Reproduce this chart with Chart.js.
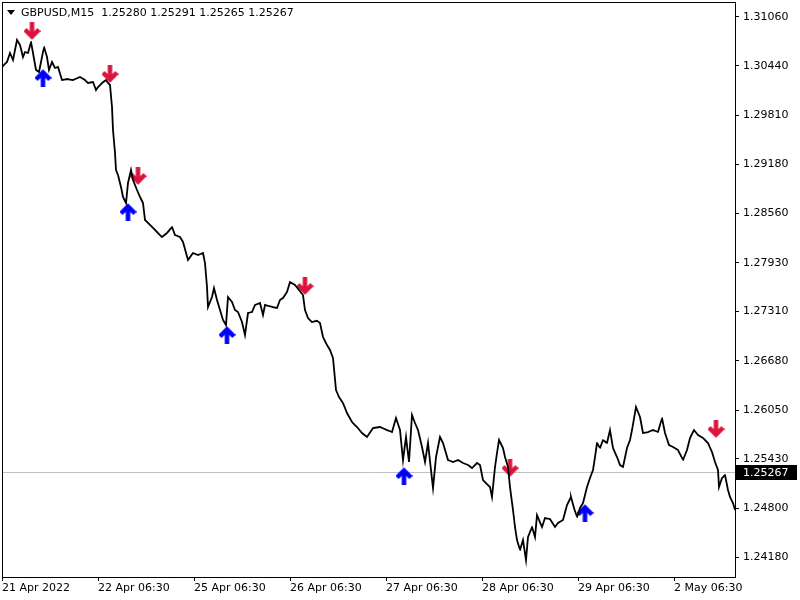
<!DOCTYPE html>
<html>
<head>
<meta charset="utf-8">
<title>GBPUSD,M15</title>
<script src="https://cdn.jsdelivr.net/npm/chart.js@4.4.1/dist/chart.umd.min.js"></script>
<style>
  html, body { margin: 0; padding: 0; background: #fff; }
  #wrap { width: 800px; height: 600px; }
</style>
</head>
<body>
<div id="wrap"><canvas id="chart" width="800" height="600"></canvas></div>
<script>
const symbolTitle = "GBPUSD,M15";
const lastBar = ["1.25280", "1.25291", "1.25265", "1.25267"];
const bidPrice = 1.25267;

// M15 bar number (0 = first bar on screen) and close
const barIndex = [
  0, 5, 8, 11, 15, 18, 21, 23, 26, 29,
  31, 34, 37, 40, 42, 45, 47, 50, 53, 56,
  60, 65, 71, 78, 83, 86, 91, 94, 96, 100,
  104, 106, 108, 110, 111, 113, 114, 116, 119, 121,
  124, 126, 129, 131, 135, 138, 141, 143, 146, 150,
  155, 160, 165, 170, 173, 178, 181, 186, 191, 196,
  201, 203, 205, 206, 210, 212, 215, 218, 221, 224,
  226, 230, 233, 236, 240, 243, 246, 250, 253, 258,
  261, 263, 266, 271, 275, 278, 281, 285, 288, 293,
  297, 301, 303, 306, 310, 315, 318, 321, 325, 328,
  331, 334, 337, 341, 345, 350, 355, 360, 365, 371,
  378, 385, 390, 394, 398, 401, 404, 407, 410, 413,
  416, 420, 423, 426, 431, 434, 438, 441, 446, 451,
  456, 461, 466, 470, 475, 478, 481, 484, 488, 490,
  493, 495, 497, 501, 503, 506, 508, 511, 513, 515,
  518, 521, 524, 526, 530, 533, 535, 540, 543, 548,
  553, 556, 561, 565, 569, 572, 575, 578, 581, 585,
  588, 591, 593, 595, 598, 601, 605, 608, 611, 615,
  618, 621, 625, 628, 630, 634, 638, 641, 646, 651,
  656, 660, 663, 667, 671, 676, 681, 685, 688, 692,
  696, 701, 706, 710, 713, 716, 717, 720, 723, 726,
  728, 731, 733
];
const closePrice = [
  1.30423, 1.30487, 1.30601, 1.30512, 1.30767, 1.30703, 1.30550, 1.30614, 1.30601, 1.30742,
  1.30601, 1.30385, 1.30359, 1.30550, 1.30678, 1.30550, 1.30385, 1.30487, 1.30410, 1.30423,
  1.30257, 1.30270, 1.30257, 1.30296, 1.30257, 1.30219, 1.30232, 1.30130, 1.30168, 1.30219,
  1.30257, 1.30219, 1.30194, 1.29913, 1.29620, 1.29327, 1.29111, 1.29047, 1.28894, 1.28767,
  1.28690, 1.28945, 1.29111, 1.28983, 1.28856, 1.28767, 1.28690, 1.28474, 1.28436, 1.28385,
  1.28321, 1.28257, 1.28308, 1.28385, 1.28283, 1.28257, 1.28194, 1.27964, 1.28053, 1.28028,
  1.28053, 1.27926, 1.27620, 1.27365, 1.27493, 1.27607, 1.27455, 1.27327, 1.27200, 1.27136,
  1.27493, 1.27429, 1.27327, 1.27302, 1.27174, 1.27009, 1.27289, 1.27302, 1.27391, 1.27416,
  1.27264, 1.27391, 1.27380, 1.27365, 1.27353, 1.27455, 1.27480, 1.27557, 1.27684, 1.27646,
  1.27582, 1.27518, 1.27327, 1.27225, 1.27174, 1.27190, 1.27162, 1.26983, 1.26881, 1.26818,
  1.26716, 1.26308, 1.26219, 1.26142, 1.26015, 1.25900, 1.25837, 1.25760, 1.25709, 1.25824,
  1.25837, 1.25798, 1.25773, 1.25951, 1.25798, 1.25416, 1.25709, 1.25391, 1.25990, 1.25888,
  1.25798, 1.25582, 1.25391, 1.25633, 1.25059, 1.25454, 1.25709, 1.25633, 1.25416, 1.25391,
  1.25416, 1.25378, 1.25353, 1.25314, 1.25378, 1.25353, 1.25161, 1.25123, 1.25072, 1.24945,
  1.25327, 1.25505, 1.25671, 1.25569, 1.25454, 1.25327, 1.25072, 1.24779, 1.24563, 1.24397,
  1.24270, 1.24397, 1.24142, 1.24435, 1.24563, 1.24435, 1.24715, 1.24563, 1.24677, 1.24665,
  1.24563, 1.24614, 1.24652, 1.24843, 1.24945, 1.24805, 1.24690, 1.24805, 1.24868, 1.25072,
  1.25187, 1.25289, 1.25454, 1.25633, 1.25569, 1.25671, 1.25633, 1.25798, 1.25569, 1.25454,
  1.25353, 1.25327, 1.25569, 1.25671, 1.25798, 1.26091, 1.25964, 1.25760, 1.25773, 1.25798,
  1.25773, 1.25951, 1.25760, 1.25607, 1.25582, 1.25544, 1.25416, 1.25544, 1.25697, 1.25798,
  1.25735, 1.25697, 1.25633, 1.25518, 1.25391, 1.25289, 1.25072, 1.25187, 1.25225, 1.25034,
  1.24945, 1.24868, 1.24779
];

// indicator arrows
const sellBars = [30, 108, 136, 303, 508, 714];
const sellPrices = [1.30882, 1.30334, 1.29034, 1.27633, 1.25314, 1.25811];
const buyBars = [41, 126, 225, 402, 583];
const buyPrices = [1.30283, 1.28576, 1.27009, 1.25212, 1.24741];

const xTickBars = [0, 96, 192, 288, 384, 480, 576, 672];
const xTickLabels = ["21 Apr 2022", "22 Apr 06:30", "25 Apr 06:30", "26 Apr 06:30",
  "27 Apr 06:30", "28 Apr 06:30", "29 Apr 06:30", "2 May 06:30"];
const yTickValues = [1.31060, 1.30440, 1.29810, 1.29180, 1.28560, 1.27930,
  1.27310, 1.26680, 1.26050, 1.25430, 1.24800, 1.24180];

const FONT = { family: "'DejaVu Sans', sans-serif", size: 11 };

function makeArrow(color, down) {
  const c = document.createElement("canvas");
  c.width = 17;
  c.height = 18;
  const g = c.getContext("2d");
  if (!down) {
    g.translate(0, 18);
    g.scale(1, -1);
  }
  g.strokeStyle = color;
  g.lineWidth = 4.5;
  g.lineJoin = "miter";
  g.beginPath();
  g.moveTo(8.5, 0);
  g.lineTo(8.5, 14);
  g.stroke();
  g.beginPath();
  g.moveTo(1.5, 7.5);
  g.lineTo(8.5, 14.5);
  g.lineTo(15.5, 7.5);
  g.stroke();
  return c;
}

const frame = {
  id: "frame",
  beforeDatasetsDraw(chart) {
    const { ctx, chartArea: a, scales } = chart;
    const y = Math.round(scales.y.getPixelForValue(bidPrice)) + 0.5;
    ctx.save();
    ctx.strokeStyle = "#c0c0c0";
    ctx.lineWidth = 1;
    ctx.beginPath();
    ctx.moveTo(a.left, y);
    ctx.lineTo(a.right, y);
    ctx.stroke();
    ctx.restore();
  },
  afterDraw(chart) {
    const { ctx, chartArea: a, scales } = chart;
    ctx.save();
    ctx.strokeStyle = "#000";
    ctx.lineWidth = 1;
    ctx.strokeRect(a.left + 0.5, a.top + 0.5, a.right - a.left, a.bottom - a.top);

    // header
    ctx.fillStyle = "#000";
    ctx.beginPath();
    ctx.moveTo(7, 10);
    ctx.lineTo(15, 10);
    ctx.lineTo(11, 15);
    ctx.closePath();
    ctx.fill();
    ctx.font = "11px 'DejaVu Sans'";
    ctx.textBaseline = "middle";
    ctx.fillText(symbolTitle + "  " + lastBar.join(" "), 21, 13);

    // bid label
    const y = Math.round(scales.y.getPixelForValue(bidPrice));
    ctx.fillRect(a.right + 1, y - 7, 61, 15);
    ctx.fillStyle = "#fff";
    ctx.fillText(bidPrice.toFixed(5), 743, y + 1);
    ctx.restore();
  }
};

new Chart(document.getElementById("chart"), {
  type: "line",
  data: {
    datasets: [
      {
        label: symbolTitle,
        data: barIndex.map((b, i) => ({ x: b, y: closePrice[i] })),
        borderColor: "#000",
        borderWidth: 1.8,
        pointRadius: 0,
        tension: 0.0001
      },
      {
        type: "scatter",
        label: "sell",
        data: sellBars.map((b, i) => ({ x: b, y: sellPrices[i] })),
        pointStyle: makeArrow("#dc143c", true),
        showLine: false
      },
      {
        type: "scatter",
        label: "buy",
        data: buyBars.map((b, i) => ({ x: b, y: buyPrices[i] })),
        pointStyle: makeArrow("#0000ff", false),
        showLine: false
      }
    ]
  },
  options: {
    responsive: false,
    animation: false,
    layout: { autoPadding: false, padding: { left: 2, top: 2, right: 0, bottom: 0 } },
    plugins: { legend: { display: false }, tooltip: { enabled: false } },
    scales: {
      x: {
        type: "linear",
        min: 0,
        max: 733,
        afterBuildTicks: s => { s.ticks = xTickBars.map(v => ({ value: v })); },
        afterFit: s => {
          s.height = 23;
          s.paddingLeft = 0;
          s.paddingRight = 0;
        },
        grid: { drawOnChartArea: false, tickLength: 4, color: "#000" },
        border: { display: false },
        ticks: {
          callback: (v, i) => xTickLabels[i],
          align: "start",
          autoSkip: false,
          maxRotation: 0,
          padding: 1,
          color: "#000",
          font: FONT
        }
      },
      y: {
        position: "right",
        min: 1.23926,
        max: 1.31251,
        afterBuildTicks: s => { s.ticks = yTickValues.map(v => ({ value: v })); },
        afterFit: s => {
          s.width = 65;
          s.paddingTop = 0;
          s.paddingBottom = 0;
        },
        grid: { drawOnChartArea: false, tickLength: 4, color: "#000" },
        border: { display: false },
        ticks: {
          callback: v => v.toFixed(5),
          autoSkip: false,
          padding: 4,
          color: "#000",
          font: FONT
        }
      }
    }
  },
  plugins: [frame]
});
</script>
</body>
</html>
